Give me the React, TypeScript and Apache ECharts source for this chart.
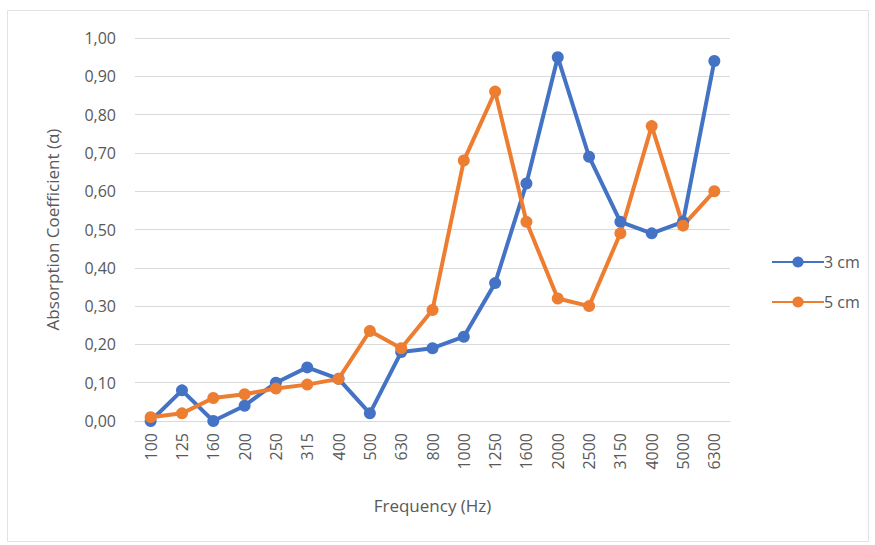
import React, { useEffect, useRef } from "react";
import * as echarts from "echarts";

const categories = ["100", "125", "160", "200", "250", "315", "400", "500", "630", "800", "1000", "1250", "1600", "2000", "2500", "3150", "4000", "5000", "6300"];
const series3cm = [0.0, 0.08, 0.0, 0.04, 0.1, 0.14, 0.11, 0.02, 0.18, 0.19, 0.22, 0.36, 0.62, 0.95, 0.69, 0.52, 0.49, 0.52, 0.94];
const series5cm = [0.01, 0.02, 0.06, 0.07, 0.085, 0.095, 0.11, 0.235, 0.19, 0.29, 0.68, 0.86, 0.52, 0.32, 0.3, 0.49, 0.77, 0.51, 0.6];
const seriesNames = ["3 cm", "5 cm"];

const FONT = "Open Sans";
const TXT = "#595959";

export default function App() {
  const ref = useRef<HTMLDivElement>(null);
  useEffect(() => {
    if (!ref.current) return;
    const chart = echarts.init(ref.current, undefined, { renderer: "svg" });
    chart.setOption({
      animation: false,
      backgroundColor: "#ffffff",
      textStyle: { fontFamily: FONT, color: TXT },
      graphic: [
        {
          type: "rect",
          shape: { x: 7.5, y: 10.5, width: 861, height: 531 },
          style: { fill: "none", stroke: "#e3e3e3", lineWidth: 1 },
          silent: true,
        },
      ],
      grid: { left: 135, right: 145, top: 38, bottom: 124 },
      legend: {
        orient: "vertical",
        left: 766,
        top: 249,
        itemWidth: 52,
        itemHeight: 14,
        itemGap: 24,
        textStyle: { fontFamily: FONT, fontSize: 16, color: TXT, padding: [0, 0, 0, -5] },
        data: seriesNames,
      },
      xAxis: {
        type: "category",
        data: categories,
        boundaryGap: true,
        name: "Frequency (Hz)",
        nameLocation: "middle",
        nameGap: 76,
        nameTextStyle: { fontFamily: FONT, fontSize: 17, color: TXT },
        axisLine: { show: true, lineStyle: { color: "#d9d9d9", width: 1 } },
        axisTick: { show: false },
        axisLabel: { rotate: 90, margin: 12, fontFamily: FONT, fontSize: 16, color: TXT, interval: 0 },
      },
      yAxis: {
        type: "value",
        min: 0,
        max: 1,
        interval: 0.1,
        name: "Absorption Coefficient (\u03b1)",
        nameLocation: "middle",
        nameGap: 74,
        nameRotate: 90,
        nameTextStyle: { fontFamily: FONT, fontSize: 17, color: TXT },
        axisLine: { show: false },
        axisTick: { show: false },
        splitLine: { lineStyle: { color: "#d9d9d9", width: 1 } },
        axisLabel: {
          margin: 19,
          fontFamily: FONT,
          fontSize: 16,
          color: TXT,
          formatter: (v: number) => v.toFixed(2).replace(".", ","),
        },
      },
      series: [
        {
          name: seriesNames[0],
          type: "line",
          data: series3cm,
          symbol: "circle",
          symbolSize: 12,
          lineStyle: { width: 4, color: "#4472C4" },
          itemStyle: { color: "#4472C4" },
        },
        {
          name: seriesNames[1],
          type: "line",
          data: series5cm,
          symbol: "circle",
          symbolSize: 12,
          lineStyle: { width: 4, color: "#ED7D31" },
          itemStyle: { color: "#ED7D31" },
        },
      ],
    });
    return () => chart.dispose();
  }, []);
  return <div ref={ref} style={{ position: "absolute", left: 0, top: 0, width: 875, height: 545 }} />;
}
